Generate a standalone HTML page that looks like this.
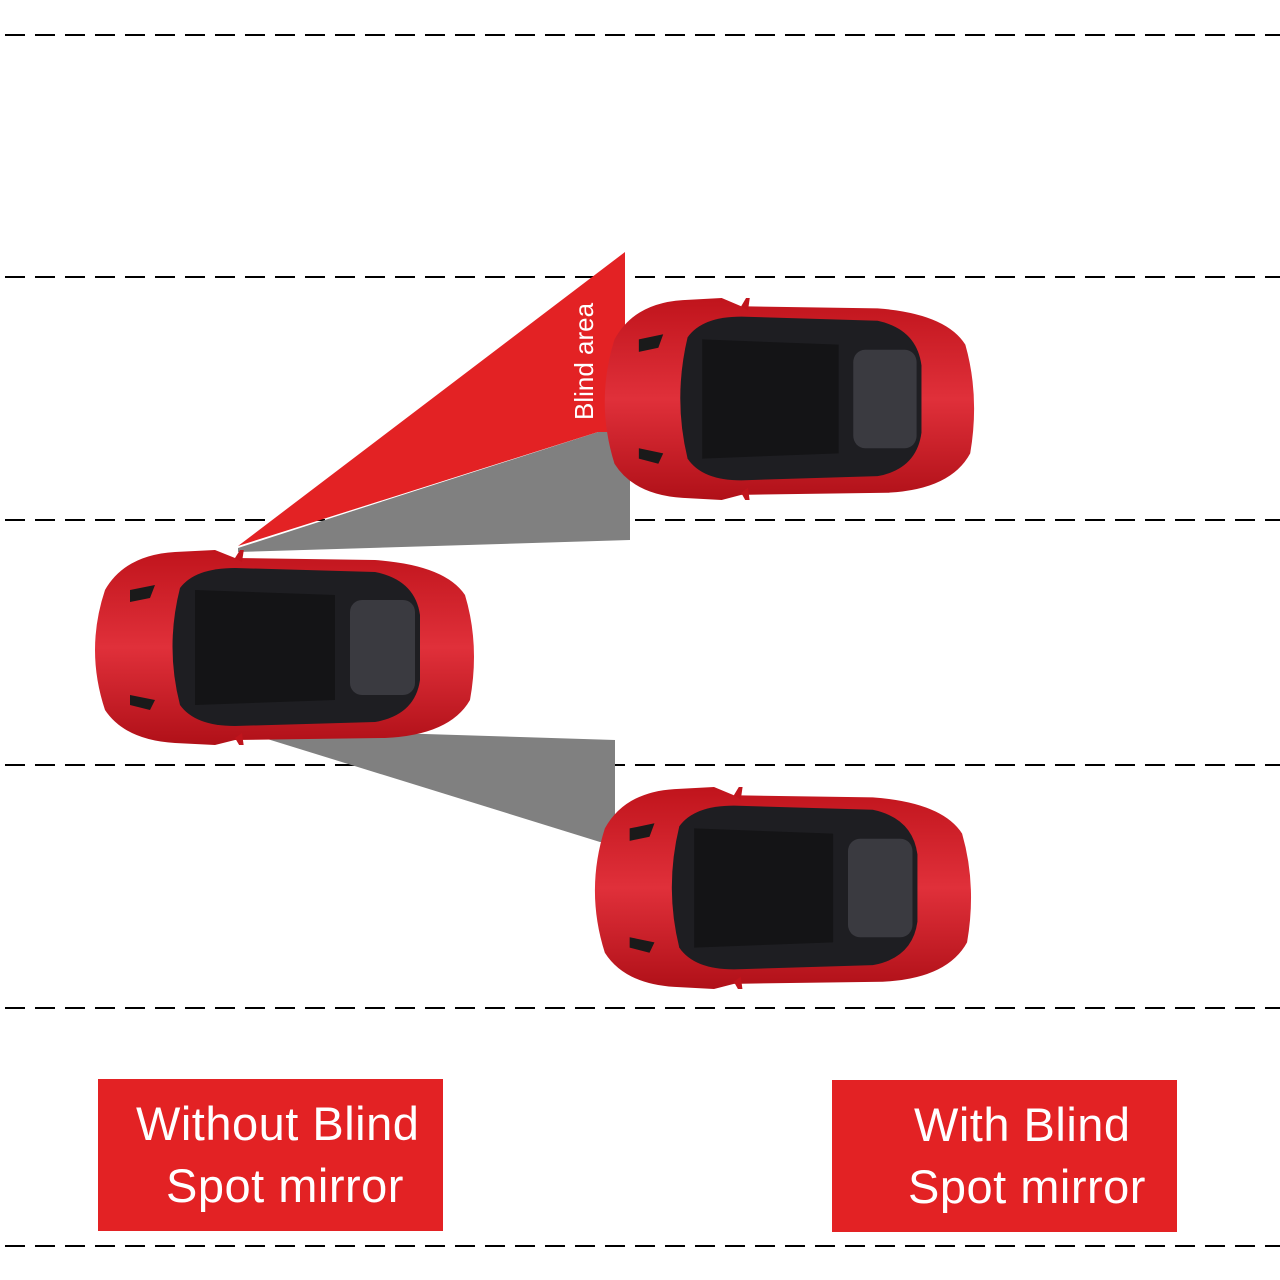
<!DOCTYPE html>
<html><head><style>
html,body{margin:0;padding:0;background:#fff}
.lbl{position:absolute;background:#e32224;color:#fff;font-family:"Liberation Sans",sans-serif;font-size:47px;line-height:62px;}
</style></head><body>
<svg width="1280" height="1280" style="position:absolute;left:0;top:0">
<defs>
<linearGradient id="rg" x1="0" y1="0" x2="0" y2="1">
<stop offset="0" stop-color="#c0141c"/><stop offset="0.5" stop-color="#e0303a"/><stop offset="1" stop-color="#b01018"/></linearGradient>
<symbol id="car" viewBox="0 0 393 195" width="393" height="195" preserveAspectRatio="none">
<path d="M20,40 Q40,5 90,2 L130,0 L150,8 L290,10 Q360,15 380,45 Q395,95 385,150 Q365,185 300,188 L150,190 L130,195 L90,193 Q40,190 20,160 Q0,100 20,40Z" fill="url(#rg)"/>
<path d="M150,8 L160,-8 L157,12Z M150,188 L160,205 L157,183Z" fill="#c0141c"/>
<path d="M95,38 Q110,18 150,18 L290,22 Q330,30 335,65 L335,130 Q330,165 290,172 L150,176 Q110,176 95,155 Q80,97 95,38Z" fill="#1e1e22"/>
<rect x="265" y="50" width="65" height="95" rx="12" fill="#3a3a40"/>
<path d="M110,40 L250,45 L250,150 L110,155Z" fill="#141416"/>
<path d="M45,40 L70,35 L65,48 L45,52Z M45,145 L70,150 L65,160 L45,155Z" fill="#1a1a1a"/>
</symbol>
</defs>
<g stroke="#000" stroke-width="2" stroke-dasharray="20,10">
<line x1="5" y1="35" x2="1280" y2="35"/>
<line x1="5" y1="277" x2="1280" y2="277"/>
<line x1="5" y1="520" x2="1280" y2="520"/>
<line x1="5" y1="765" x2="1280" y2="765"/>
<line x1="5" y1="1008" x2="1280" y2="1008"/>
<line x1="5" y1="1246" x2="1280" y2="1246"/>
</g>
<polygon points="238,548 598,432 630,432 630,540 238,552" fill="#808080"/>
<polygon points="238,546 625,252 625,432 598,432" fill="#e32224"/>
<polygon points="232,728 615,740 615,842 600,842" fill="#808080"/>
<text transform="translate(593,420) rotate(-90)" font-family="Liberation Sans,sans-serif" font-size="26" fill="#fff">Blind area</text>
<use href="#car" x="85" y="550" width="393" height="195"/>
<use href="#car" x="595" y="298" width="383" height="202"/>
<use href="#car" x="585" y="787" width="390" height="202"/>
</svg>
<div class="lbl" style="left:98px;top:1079px;width:345px;height:152px;box-sizing:border-box;padding:14px 0 0 38px;letter-spacing:0.5px">Without Blind<br><span style="padding-left:30px">Spot mirror</span></div>
<div class="lbl" style="left:832px;top:1080px;width:345px;height:152px;box-sizing:border-box;padding:14px 0 0 82px;letter-spacing:0.5px">With Blind<br><span style="margin-left:-6px">Spot mirror</span></div>
</body></html>
